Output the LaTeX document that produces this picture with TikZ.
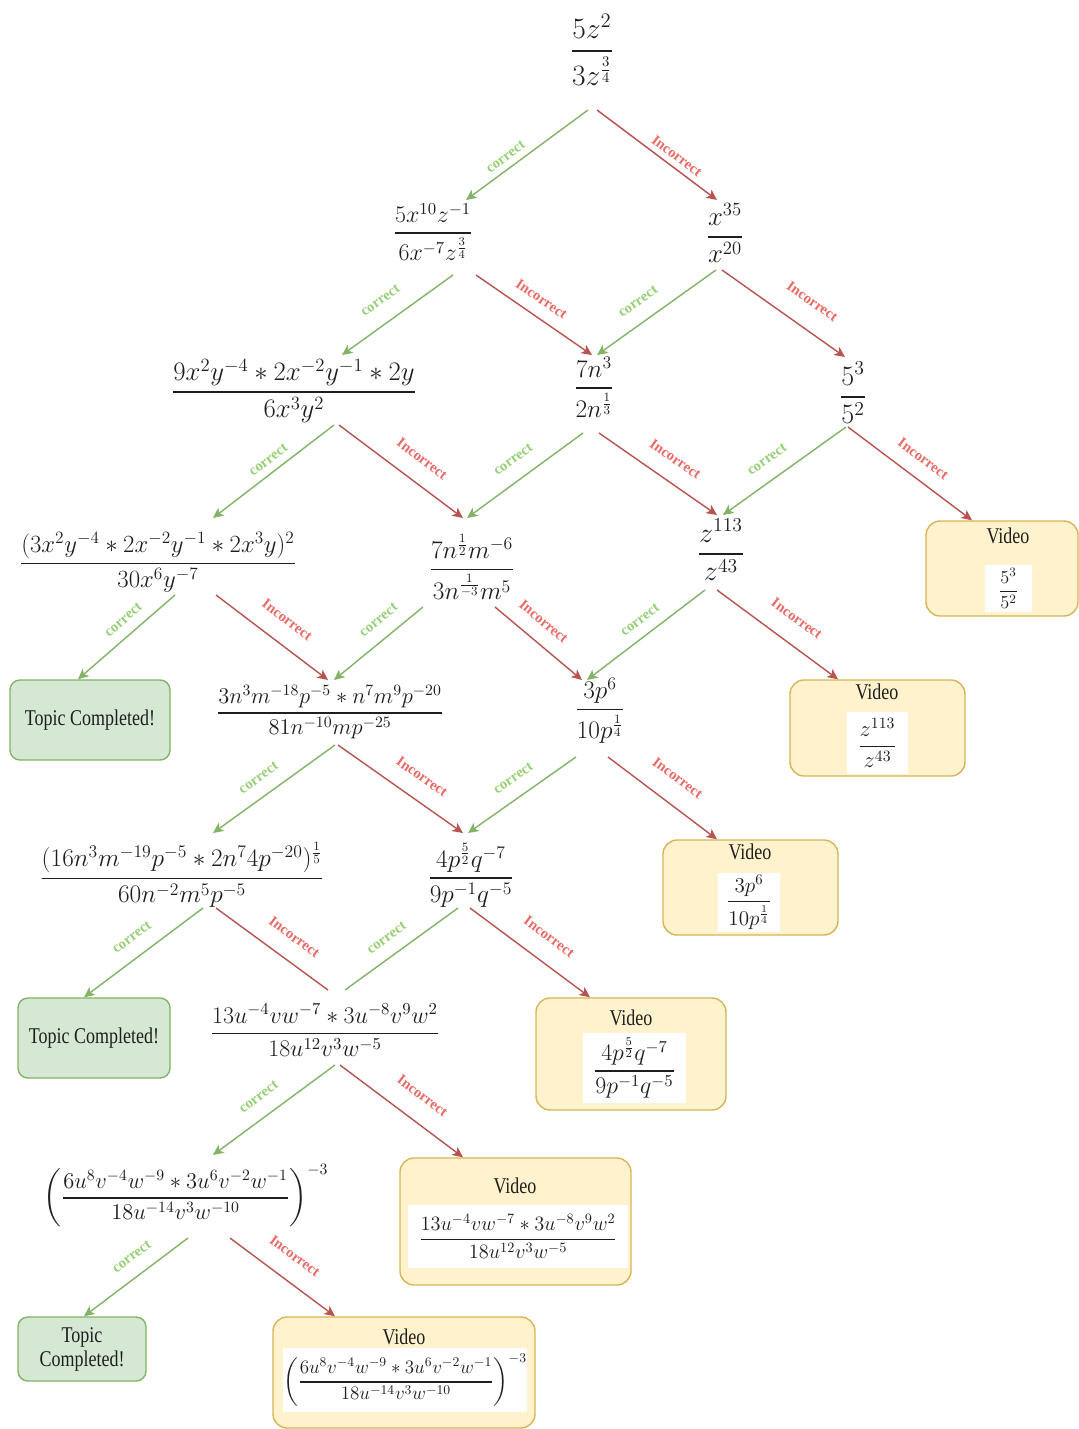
\RequirePackage{fix-cm}
\documentclass[tikz,border=0pt]{standalone}
\usepackage{amsmath}
\usepackage{fontspec}
\usetikzlibrary{arrows.meta,calc}

\newfontfamily\boxfont[FakeStretch=0.8]{Liberation Serif}
\newfontfamily\labfont{Liberation Serif}

\definecolor{okline}{HTML}{82B366}
\definecolor{oktext}{HTML}{97D077}
\definecolor{badline}{HTML}{B85450}
\definecolor{badtext}{HTML}{EA6B66}
\definecolor{donefill}{HTML}{D5E8D4}
\definecolor{videofill}{HTML}{FFF2CC}
\definecolor{videoline}{HTML}{D6B656}
\definecolor{ink}{HTML}{1E1E1E}

% display fraction with a slightly heavier bar
\newcommand{\dfr}[2]{\genfrac{}{}{0.06em}{0}{#1}{#2}}

% expressions shared between the tree and the video cards
\newcommand{\exprE}{\dfr{5^{3}}{5^{2}}}
\newcommand{\exprH}{\dfr{z^{113}}{z^{43}}}
\newcommand{\exprJ}{\dfr{3p^{6}}{10p^{\frac{1}{4}}}}
\newcommand{\exprL}{\dfr{4p^{\frac{5}{2}}q^{-7}}{9p^{-1}q^{-5}}}
\newcommand{\exprM}{\dfr{13u^{-4}vw^{-7}\ast 3u^{-8}v^{9}w^{2}}{18u^{12}v^{3}w^{-5}}}
\newcommand{\exprN}{\left(\dfr{6u^{8}v^{-4}w^{-9}\ast 3u^{6}v^{-2}w^{-1}}{18u^{-14}v^{3}w^{-10}}\right)^{-3}}

\begin{document}
\begin{tikzpicture}[x=0.025cm, y=-0.025cm,
  expr/.style={inner sep=0pt, text=ink, font=\fontsize{#1}{#1}\selectfont},
  sz/.style 2 args={minimum width=#1*0.025cm, minimum height=#2*0.025cm},
  done/.style={draw=okline, fill=donefill, rounded corners=7pt, line width=1pt,
    align=center, text=ink, inner sep=0pt, font=\boxfont\fontsize{16}{17}\selectfont},
  video/.style={draw=videoline, fill=videofill, rounded corners=10pt, line width=1pt},
  vtitle/.style={inner sep=0pt, text=ink, font=\boxfont\fontsize{16}{17}\selectfont},
  vexpr/.style={fill=white, inner sep=0pt, text=ink, font=\fontsize{#1}{#1}\selectfont},
  okedge/.style={draw=okline, line width=1pt, -{Stealth[length=7.5pt, width=7pt, inset=2pt]}},
  badedge/.style={draw=badline, line width=1pt, -{Stealth[length=7.5pt, width=7pt, inset=2pt]}},
  okplain/.style={draw=okline, line width=1pt},
  badplain/.style={draw=badline, line width=1pt},
  oklab/.style={sloped, above=#1, inner sep=0pt, text=oktext,
    font=\labfont\fontsize{10.5}{12}\selectfont\bfseries},
  badlab/.style={sloped, above=#1, inner sep=0pt, text=badtext,
    font=\labfont\fontsize{10.5}{12}\selectfont\bfseries}
]
\fill[white] (0,0) rectangle (1079,1429);
\useasboundingbox (0,0) rectangle (1079,1429);

% ---- expression tree ----
\node[expr=21] (root) at (592,50) {$\dfr{5z^{2}}{3z^{\frac{3}{4}}}$};
\node[expr=17] (A) at (433,232) {$\dfr{5x^{10}z^{-1}}{6x^{-7}z^{\frac{3}{4}}}$};
\node[expr=19] (B) at (725,233) {$\dfr{x^{35}}{x^{20}}$};
\node[expr=19] (C) at (294,391) {$\dfr{9x^{2}y^{-4}\ast 2x^{-2}y^{-1}\ast 2y}{6x^{3}y^{2}}$};
\node[expr=18] (D) at (594,387) {$\dfr{7n^{3}}{2n^{\frac{1}{3}}}$};
\node[expr=20] (E) at (853,393) {$\exprE$};
\node[expr=17.6] (F) at (158,562) {$\dfr{(3x^{2}y^{-4}\ast 2x^{-2}y^{-1}\ast 2x^{3}y)^{2}}{30x^{6}y^{-7}}$};
\node[expr=18] (G) at (472,567) {$\dfr{7n^{\frac{1}{2}}m^{-6}}{3n^{\frac{1}{-3}}m^{5}}$};
\node[expr=20] (H) at (721,550) {$\exprH$};
\node[expr=16] (I) at (330,712) {$\dfr{3n^{3}m^{-18}p^{-5}\ast n^{7}m^{9}p^{-20}}{81n^{-10}mp^{-25}}$};
\node[expr=18] (J) at (600,711) {$\exprJ$};
\node[expr=18] (K) at (182,875) {$\dfr{(16n^{3}m^{-19}p^{-5}\ast 2n^{7}4p^{-20})^{\frac{1}{5}}}{60n^{-2}m^{5}p^{-5}}$};
\node[expr=18] (L) at (471,875) {$\exprL$};
\node[expr=17] (M) at (325,1030) {$\exprM$};
\node[expr=16] (N) at (186,1196) {$\exprN$};

% ---- end cards ----
\node[done, sz={160}{80}] (tc1) at (90,720) {Topic Completed!};
\node[done, sz={152}{80}] (tc2) at (94,1038) {Topic Completed!};
\node[done, sz={128}{64}] (tc3) at (82,1349) {Topic\\Completed!};

\node[video, sz={152}{95}] (v1) at (1002,568.5) {};
\node[vtitle] (v1t) at (1008,536) {Video};
\node[vexpr=13, sz={47}{47}] (v1e) at (1008.5,588.5) {$\exprE$};

\node[video, sz={175}{96}] (v2) at (877.5,728) {};
\node[vtitle] (v2t) at (877,692) {Video};
\node[vexpr=16, sz={61}{62}] (v2e) at (877.5,743) {$\exprH$};

\node[video, sz={175}{95}] (v3) at (750.5,887.5) {};
\node[vtitle] (v3t) at (750,852) {Video};
\node[vexpr=15, sz={62}{59}] (v3e) at (749,902.5) {$\exprJ$};

\node[video, sz={190}{112}] (v4) at (631,1054) {};
\node[vtitle] (v4t) at (631,1018) {Video};
\node[vexpr=17, sz={103}{70}] (v4e) at (634.5,1068) {$\exprL$};

\node[video, sz={231}{127}] (v5) at (515.5,1221.5) {};
\node[vtitle] (v5t) at (515,1186) {Video};
\node[vexpr=14.5, sz={220}{63}] (v5e) at (518,1236.5) {$\exprM$};

\node[video, sz={262}{111}] (v6) at (404,1372.5) {};
\node[vtitle] (v6t) at (404,1337) {Video};
\node[vexpr=13.5, sz={244}{64}] (v6e) at (405,1380) {$\exprN$};

% ---- connectors ----
\draw[okedge]  ($(root)+(-4,60)$) -- node[oklab=4.5pt, pos=.62]{correct}   ($(A)+(33,-32)$);
\draw[badedge] ($(root)+(5,60)$)  -- node[badlab=4pt, pos=.61]{Incorrect}  ($(B)+(-8,-33)$);

\draw[okedge]  ($(A)+(20,43)$) -- node[oklab=12pt, pos=.54]{correct}   ($(C)+(48,-36)$);
\draw[badedge] ($(A)+(43,43)$) -- node[badlab=8.4pt, pos=.48]{Incorrect} ($(D)+(-2,-32)$);
\draw[okedge]  ($(B)+(-9,37)$) -- node[oklab=10.5pt, pos=.56]{correct}  ($(D)+(3,-32)$);
\draw[badedge] ($(B)+(-3,37)$) -- node[badlab=15pt, pos=.61]{Incorrect}  ($(E)+(-8,-36)$);

\draw[okedge]  ($(C)+(40,34)$) -- node[oklab=5.3pt, pos=.48]{correct}   ($(F)+(55,-44)$);
\draw[badedge] ($(C)+(45,34)$) -- node[badlab=12.4pt, pos=.56]{Incorrect} ($(G)+(-9,-49)$);
\draw[okedge]  ($(D)+(-11,46)$) -- node[oklab=10.7pt, pos=.5]{correct}  ($(G)+(-5,-49)$);
\draw[badedge] ($(D)+(5,46)$) -- node[badlab=11.8pt, pos=.54]{Incorrect} ($(H)+(-4,-35)$);
\draw[okedge]  ($(E)+(-7,34)$) -- node[oklab=10.4pt, pos=.55]{correct}  ($(H)+(2,-35)$);
\draw[badedge] ($(E)+(-5,34)$) -- node[badlab=10.3pt, pos=.51]{Incorrect} ($(v1.north)+(-30,0)$);

\draw[okedge]  ($(F)+(17,33)$) -- node[oklab=7.3pt, pos=.43]{correct}   ($(tc1.north)+(-12,0)$);
\draw[badedge] ($(F)+(58,33)$) -- node[badlab=12.7pt, pos=.51]{Incorrect} ($(I)+(-2,-32)$);
\draw[okedge]  ($(G)+(-49,40)$) -- node[oklab=9.5pt, pos=.37]{correct}  ($(I)+(4,-32)$);
\draw[badedge] ($(G)+(23,40)$) -- node[badlab=10.5pt, pos=.41]{Incorrect} ($(J)+(-18,-31)$);
\draw[okedge]  ($(H)+(-16,40)$) -- node[oklab=7.8pt, pos=.47]{correct}  ($(J)+(-13,-31)$);
\draw[badedge] ($(H)+(-4,40)$) -- node[badlab=13.5pt, pos=.54]{Incorrect} ($(v2.north)+(-39.5,0)$);

\draw[okedge]  ($(I)+(5,33)$) -- node[oklab=9.4pt, pos=.54]{correct}    ($(K)+(31,-42)$);
\draw[badedge] ($(I)+(8,33)$) -- node[badlab=12pt, pos=.57]{Incorrect}   ($(L)+(-8,-42)$);
\draw[okedge]  ($(J)+(-24,46)$) -- node[oklab=9.9pt, pos=.48]{correct}  ($(L)+(-3,-42)$);
\draw[badedge] ($(J)+(8,46)$) -- node[badlab=14pt, pos=.5]{Incorrect}   ($(v3.north)+(-33.5,0)$);

\draw[okedge]  ($(K)+(21,33)$) -- node[oklab=10.2pt, pos=.5]{correct}   ($(tc2.north)+(-10,0)$);
\draw[badplain] ($(K)+(34,33)$) -- node[badlab=12.3pt, pos=.58]{Incorrect} ($(M)+(3,-40)$);
\draw[okplain] ($(L)+(-13,33)$) -- node[oklab=9.1pt, pos=.54]{correct}  ($(M)+(20,-40)$);
\draw[badedge] ($(L)+(-1,33)$) -- node[badlab=13.4pt, pos=.54]{Incorrect} ($(v4.north)+(-41,0)$);

\draw[okedge]  ($(M)+(10,35)$) -- node[oklab=10.5pt, pos=.53]{correct}  ($(N)+(27,-41)$);
\draw[badedge] ($(M)+(15,35)$) -- node[badlab=13.8pt, pos=.55]{Incorrect} ($(v5.north)+(-52.5,0)$);

\draw[okedge]  ($(N)+(2,42)$) -- node[oklab=10.1pt, pos=.43]{correct}   ($(tc3.north)+(2,0)$);
\draw[badedge] ($(N)+(44,42)$) -- node[badlab=13.3pt, pos=.48]{Incorrect} ($(v6.north)+(-69,0)$);
\end{tikzpicture}
\end{document}
